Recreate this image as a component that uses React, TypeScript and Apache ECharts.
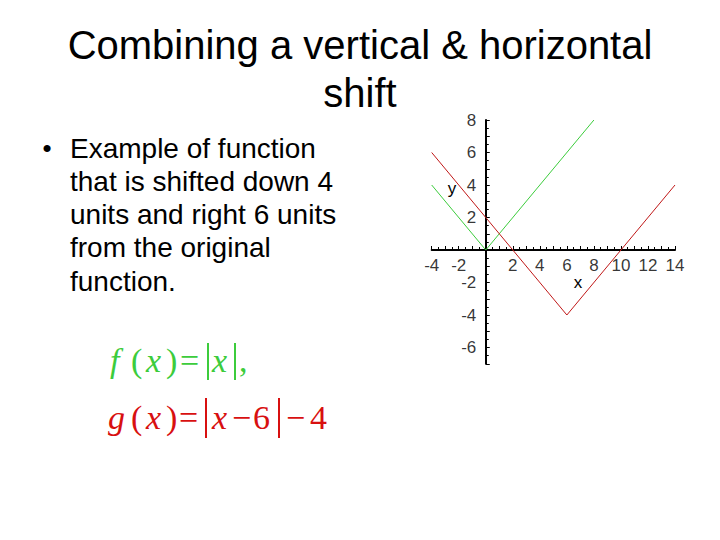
import React, { useEffect, useRef } from "react";
import * as echarts from "echarts";

const fX = [-4, 0, 8];
const fY = [4, 0, 8];
const gX = [-4, 6, 14];
const gY = [6, -4, 4];
const xTickLabels = [-4, -2, 2, 4, 6, 8, 10, 12, 14];
const yTickLabels = [-6, -4, -2, 2, 4, 6, 8];

const titleLines = ["Combining a vertical & horizontal", "shift"];
const bulletLines = [
  "Example of function",
  "that is shifted down 4",
  "units and right 6 units",
  "from the original",
  "function.",
];

const GREEN = "#3ccc3c";
const RED_LINE = "#c01818";
const RED = "#d81010";
const FONT = "'Liberation Sans', Arial, sans-serif";
const SERIF = "'Liberation Serif', 'Times New Roman', serif";

type Tok = [string, number, boolean];
// formula tokens: text, x position, italic
const fTokens: Tok[] = [
  ["f", 110, true],
  ["(", 131, false],
  ["x", 146, true],
  [")", 166, false],
  ["=", 180, false],
  ["x", 212, true],
  [",", 239, false],
];
const gTokens: Tok[] = [
  ["g", 108, true],
  ["(", 131, false],
  ["x", 146, true],
  [")", 166, false],
  ["=", 179, false],
  ["x", 212, true],
  ["−", 232, false],
  ["6", 253, false],
  ["−", 286, false],
  ["4", 310, false],
];

export default function App() {
  const ref = useRef<HTMLDivElement>(null);
  useEffect(() => {
    const chart = echarts.init(ref.current!, null, { renderer: "svg" });
    const graphics: any[] = [];
    titleLines.forEach((t, i) => {
      graphics.push({
        type: "text",
        x: 360,
        y: 45 + i * 48,
        style: { text: t, font: `40px ${FONT}`, fill: "#000", align: "center", verticalAlign: "middle" },
      });
    });
    graphics.push({
      type: "text",
      x: 47,
      y: 148,
      style: { text: "•", font: `26px ${FONT}`, fill: "#000", align: "center", verticalAlign: "middle" },
    });
    bulletLines.forEach((t, i) => {
      graphics.push({
        type: "text",
        x: 70,
        y: 148 + i * 33.3,
        style: { text: t, font: `28px ${FONT}`, fill: "#000", align: "left", verticalAlign: "middle" },
      });
    });
    const addTokens = (toks: Tok[], y: number, color: string) => {
      toks.forEach(([t, x, it]) => {
        graphics.push({
          type: "text",
          x,
          y,
          style: {
            text: t,
            font: `${it ? "italic " : ""}34px ${SERIF}`,
            fill: color,
            align: "left",
            verticalAlign: "middle",
          },
        });
      });
    };
    addTokens(fTokens, 360, GREEN);
    addTokens(gTokens, 417, RED);
    const bar = (x: number, y1: number, y2: number, color: string) =>
      graphics.push({
        type: "line",
        shape: { x1: x, y1, x2: x, y2 },
        style: { stroke: color, lineWidth: 2 },
      });
    bar(208, 343, 380, GREEN);
    bar(235, 343, 380, GREEN);
    bar(206, 398, 438, RED);
    bar(279, 398, 438, RED);

    graphics.push({
      type: "text",
      x: 452,
      y: 188,
      style: { text: "y", font: `17px ${FONT}`, fill: "#000", align: "center", verticalAlign: "middle" },
    });
    graphics.push({
      type: "text",
      x: 578,
      y: 282,
      style: { text: "x", font: `17px ${FONT}`, fill: "#000", align: "center", verticalAlign: "middle" },
    });

    const axisCommon = {
      type: "value",
      interval: 1,
      axisLine: { onZero: true, lineStyle: { color: "#000", width: 2 } },
      axisTick: { show: true, inside: true, length: 4, lineStyle: { color: "#000", width: 1 } },
      minorTick: { show: true, splitNumber: 2, length: 3, lineStyle: { color: "#000" } },
      axisLabel: { show: false },
      splitLine: { show: false },
      minorSplitLine: { show: false },
    };

    const labelStyle = { color: "#000", fontSize: 17, fontFamily: FONT };

    chart.setOption({
      animation: false,
      backgroundColor: "#fff",
      grid: { left: 431.7, right: 45, top: 120, bottom: 176.25, containLabel: false },
      xAxis: { ...axisCommon, min: -4, max: 14 },
      yAxis: { ...axisCommon, min: -7, max: 8 },
      series: [
        {
          type: "line",
          data: fX.map((x, i) => [x, fY[i]]),
          symbol: "none",
          lineStyle: { color: GREEN, width: 1 },
        },
        {
          type: "line",
          data: gX.map((x, i) => [x, gY[i]]),
          symbol: "none",
          lineStyle: { color: RED_LINE, width: 1 },
        },
        {
          type: "scatter",
          silent: true,
          symbolSize: 1,
          itemStyle: { color: "rgba(0,0,0,0)" },
          data: xTickLabels.map((v) => [v, 0]),
          label: {
            show: true,
            position: "bottom",
            distance: 6,
            ...labelStyle,
            formatter: (p: any) => String(p.value[0]),
          },
        },
        {
          type: "scatter",
          silent: true,
          symbolSize: 1,
          itemStyle: { color: "rgba(0,0,0,0)" },
          data: yTickLabels.map((v) => [0, v]),
          label: {
            show: true,
            position: "left",
            distance: 9,
            ...labelStyle,
            formatter: (p: any) => String(p.value[1]),
          },
        },
      ],
      graphic: graphics,
    });
    return () => chart.dispose();
  }, []);
  return <div ref={ref} style={{ width: 720, height: 540, position: "absolute", left: 0, top: 0 }} />;
}
